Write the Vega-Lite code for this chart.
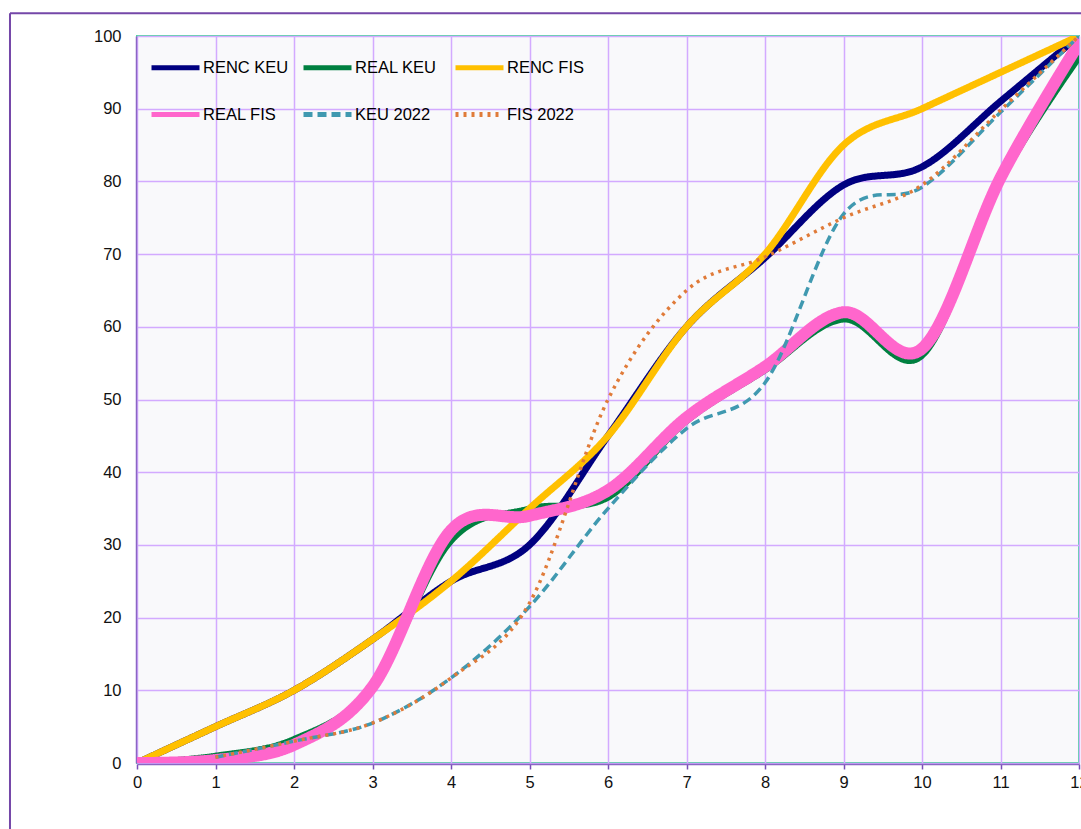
{
  "$schema": "https://vega.github.io/schema/vega-lite/v6.json",
  "width": 942,
  "height": 727,
  "autosize": "none",
  "padding": {"left": 137, "top": 36, "right": 2, "bottom": 66},
  "background": "white",
  "data": {
    "values": [
      {"series": "RENC KEU", "x": 0, "y": 0},
      {"series": "RENC KEU", "x": 1, "y": 5},
      {"series": "RENC KEU", "x": 2, "y": 10},
      {"series": "RENC KEU", "x": 3, "y": 17},
      {"series": "RENC KEU", "x": 4, "y": 25},
      {"series": "RENC KEU", "x": 5, "y": 30},
      {"series": "RENC KEU", "x": 6, "y": 45},
      {"series": "RENC KEU", "x": 7, "y": 60},
      {"series": "RENC KEU", "x": 8, "y": 69.5},
      {"series": "RENC KEU", "x": 9, "y": 79.5},
      {"series": "RENC KEU", "x": 10, "y": 82},
      {"series": "RENC KEU", "x": 11, "y": 91},
      {"series": "RENC KEU", "x": 12, "y": 100},
      {"series": "REAL KEU", "x": 0, "y": 0},
      {"series": "REAL KEU", "x": 1, "y": 1},
      {"series": "REAL KEU", "x": 2, "y": 3.3},
      {"series": "REAL KEU", "x": 3, "y": 10.5},
      {"series": "REAL KEU", "x": 4, "y": 30.5},
      {"series": "REAL KEU", "x": 5, "y": 35},
      {"series": "REAL KEU", "x": 6, "y": 36.5},
      {"series": "REAL KEU", "x": 7, "y": 47},
      {"series": "REAL KEU", "x": 8, "y": 54},
      {"series": "REAL KEU", "x": 9, "y": 61},
      {"series": "REAL KEU", "x": 10, "y": 56},
      {"series": "REAL KEU", "x": 11, "y": 80},
      {"series": "REAL KEU", "x": 12, "y": 97},
      {"series": "RENC FIS", "x": 0, "y": 0},
      {"series": "RENC FIS", "x": 1, "y": 5},
      {"series": "RENC FIS", "x": 2, "y": 10},
      {"series": "RENC FIS", "x": 3, "y": 17},
      {"series": "RENC FIS", "x": 4, "y": 25},
      {"series": "RENC FIS", "x": 5, "y": 35},
      {"series": "RENC FIS", "x": 6, "y": 45},
      {"series": "RENC FIS", "x": 7, "y": 60},
      {"series": "RENC FIS", "x": 8, "y": 70},
      {"series": "RENC FIS", "x": 9, "y": 85},
      {"series": "RENC FIS", "x": 10, "y": 90},
      {"series": "RENC FIS", "x": 11, "y": 95},
      {"series": "RENC FIS", "x": 12, "y": 100},
      {"series": "REAL FIS", "x": 0, "y": 0},
      {"series": "REAL FIS", "x": 1, "y": 0.4},
      {"series": "REAL FIS", "x": 2, "y": 2.5},
      {"series": "REAL FIS", "x": 3, "y": 10.5},
      {"series": "REAL FIS", "x": 4, "y": 32},
      {"series": "REAL FIS", "x": 5, "y": 34},
      {"series": "REAL FIS", "x": 6, "y": 37.5},
      {"series": "REAL FIS", "x": 7, "y": 47.5},
      {"series": "REAL FIS", "x": 8, "y": 54.5},
      {"series": "REAL FIS", "x": 9, "y": 62},
      {"series": "REAL FIS", "x": 10, "y": 57},
      {"series": "REAL FIS", "x": 11, "y": 80.5},
      {"series": "REAL FIS", "x": 12, "y": 99},
      {"series": "KEU 2022", "x": 1, "y": 0.8},
      {"series": "KEU 2022", "x": 2, "y": 3},
      {"series": "KEU 2022", "x": 3, "y": 5.5},
      {"series": "KEU 2022", "x": 4, "y": 11.7},
      {"series": "KEU 2022", "x": 5, "y": 21.5},
      {"series": "KEU 2022", "x": 6, "y": 35},
      {"series": "KEU 2022", "x": 7, "y": 46},
      {"series": "KEU 2022", "x": 8, "y": 52.3},
      {"series": "KEU 2022", "x": 9, "y": 75.5},
      {"series": "KEU 2022", "x": 10, "y": 79.2},
      {"series": "KEU 2022", "x": 11, "y": 89.5},
      {"series": "KEU 2022", "x": 12, "y": 100},
      {"series": "FIS 2022", "x": 1, "y": 0.8},
      {"series": "FIS 2022", "x": 2, "y": 3},
      {"series": "FIS 2022", "x": 3, "y": 5.5},
      {"series": "FIS 2022", "x": 4, "y": 11.7},
      {"series": "FIS 2022", "x": 5, "y": 22},
      {"series": "FIS 2022", "x": 6, "y": 50},
      {"series": "FIS 2022", "x": 7, "y": 65},
      {"series": "FIS 2022", "x": 8, "y": 69.6},
      {"series": "FIS 2022", "x": 9, "y": 75},
      {"series": "FIS 2022", "x": 10, "y": 79.5},
      {"series": "FIS 2022", "x": 11, "y": 89.8},
      {"series": "FIS 2022", "x": 12, "y": 100}
    ]
  },
  "layer": [
    {
      "transform": [{"filter": "indexof(['RENC KEU', 'REAL KEU', 'RENC FIS', 'REAL FIS'], datum.series) >= 0"}],
      "mark": {"type": "line", "interpolate": "cardinal", "strokeCap": "round", "strokeJoin": "round", "clip": true},
      "encoding": {
        "x": {
          "field": "x",
          "type": "quantitative",
          "scale": {"domain": [0, 12], "nice": false},
          "axis": {
            "title": null,
            "values": [0, 1, 2, 3, 4, 5, 6, 7, 8, 9, 10, 11, 12],
            "format": "d",
            "grid": true,
            "labelFlush": false,
            "offset": 1,
            "tickSize": 5,
            "labelPadding": 5
          }
        },
        "y": {
          "field": "y",
          "type": "quantitative",
          "scale": {"domain": [0, 100], "nice": false},
          "axis": {
            "title": null,
            "values": [0, 10, 20, 30, 40, 50, 60, 70, 80, 90, 100],
            "format": "d",
            "grid": true,
            "labelFlush": false,
            "offset": 1,
            "ticks": false,
            "labelPadding": 15
          }
        },
        "color": {
          "field": "series",
          "type": "nominal",
          "scale": {
            "domain": ["RENC KEU", "REAL KEU", "RENC FIS", "REAL FIS", "KEU 2022", "FIS 2022"],
            "range": ["#000080", "#008040", "#ffc000", "#ff66cc", "#4099b0", "#e07b39"]
          },
          "legend": {"title": null}
        },
        "strokeDash": {
          "field": "series",
          "type": "nominal",
          "scale": {
            "domain": ["RENC KEU", "REAL KEU", "RENC FIS", "REAL FIS", "KEU 2022", "FIS 2022"],
            "range": [[1, 0], [1, 0], [1, 0], [1, 0], [9, 5], [3, 5]]
          },
          "legend": {"title": null}
        },
        "strokeWidth": {
          "condition": [
            {"test": "datum.series == 'REAL FIS'", "value": 12},
            {"test": "datum.series == 'REAL KEU'", "value": 6}
          ],
          "value": 7
        }
      }
    },
    {
      "transform": [{"filter": "datum.series == 'KEU 2022' || datum.series == 'FIS 2022'"}],
      "mark": {"type": "line", "interpolate": "cardinal", "strokeCap": "butt", "strokeWidth": 3.5, "clip": true},
      "encoding": {
        "x": {"field": "x", "type": "quantitative"},
        "y": {"field": "y", "type": "quantitative"},
        "color": {"field": "series", "type": "nominal", "legend": {"title": null}},
        "strokeDash": {"field": "series", "type": "nominal", "legend": {"title": null}}
      }
    },
    {
      "data": {"values": [{}]},
      "mark": {"type": "rule", "color": "#7447a8", "strokeWidth": 2},
      "encoding": {
        "x": {"datum": -1.618, "type": "quantitative"},
        "y": {"datum": 103.12, "type": "quantitative"},
        "y2": {"datum": -12}
      }
    },
    {
      "data": {"values": [{}]},
      "mark": {"type": "rule", "color": "#7447a8", "strokeWidth": 2},
      "encoding": {
        "x": {"datum": -1.618, "type": "quantitative"},
        "x2": {"datum": 12.2},
        "y": {"datum": 103.12, "type": "quantitative"}
      }
    }
  ],
  "config": {
    "view": {"fill": "#f9f9fb", "stroke": "#4fd89e", "strokeWidth": 2},
    "axis": {
      "grid": true,
      "labelFont": "Liberation Sans",
      "labelFontSize": 16.5,
      "labelColor": "#111111",
      "domainColor": "#8a66c4",
      "domainWidth": 1.5,
      "tickColor": "#7a4fb8",
      "tickWidth": 1.5,
      "gridColor": "#d3aaff",
      "gridWidth": 1.5,
      "gridOpacity": 1
    },
    "legend": {
      "orient": "none",
      "legendX": 12,
      "legendY": 5,
      "direction": "horizontal",
      "columns": 3,
      "gridAlign": "all",
      "symbolType": "stroke",
      "symbolSize": 2304,
      "symbolStrokeWidth": 5,
      "labelFont": "Liberation Sans",
      "labelFontSize": 16.5,
      "labelColor": "#000000",
      "labelOffset": 1,
      "columnPadding": 4,
      "rowPadding": 10
    }
  }
}
